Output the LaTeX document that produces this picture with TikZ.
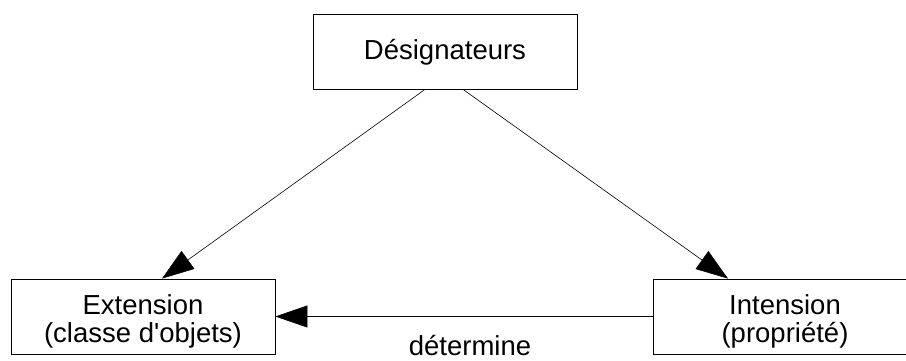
\documentclass[tikz,border=0pt]{standalone}
\usepackage{fontspec}
\setmainfont{Liberation Sans}
\usetikzlibrary{arrows.meta}
\begin{document}
\begin{tikzpicture}[x=1pt,y=-1pt,
  box/.style={draw, line width=0.8pt, minimum width=264pt, minimum height=75pt, inner sep=0pt},
  lbl/.style={font=\fontsize{27.5}{28.5}\selectfont, inner sep=0pt, align=center},
  conn/.style={line width=0.6pt, -{Triangle[length=32pt,width=22pt]}}]
\useasboundingbox (0,0) rectangle (906,361);
\node[box] (top) at (445,51.5) {};
\node[box] (ext) at (143,316.5) {};
\node[box] (int) at (785,316.5) {};
\node[lbl, anchor=base] (toplbl) at (445,60) {Désignateurs};
\node[lbl, anchor=base] (extlbl) at (143,342.5) {Extension\\(classe d\textquotesingle objets)};
\node[lbl, anchor=base] (intlbl) at (785,342.5) {Intension\\(propriété)};
\draw[conn] ([xshift=-20pt]top.south) -- ([xshift=19pt]ext.north);
\draw[conn] ([xshift=18pt]top.south) -- ([xshift=-57pt]int.north);
\draw[conn] (int.west) -- node[lbl, pos=0.484, anchor=base, yshift=-38.5pt] (det) {détermine} (ext.east);
\end{tikzpicture}
\end{document}
